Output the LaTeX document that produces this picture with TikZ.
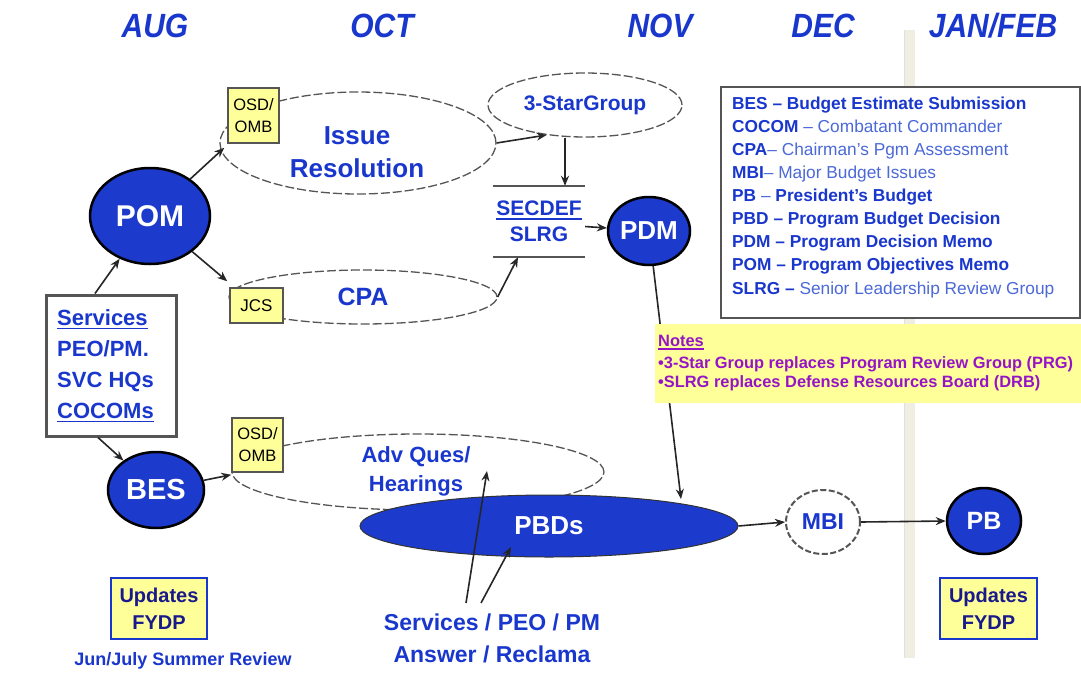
\documentclass[tikz,border=0pt]{standalone}
\usepackage{fontspec}
\setmainfont{Liberation Sans}
\usetikzlibrary{shapes.geometric,arrows.meta}
\definecolor{mblue}{RGB}{28,58,204}
\definecolor{tblue}{RGB}{25,55,205}
\definecolor{lblue}{RGB}{75,105,215}
\definecolor{ylw}{RGB}{255,255,153}
\definecolor{purp}{RGB}{150,20,200}
\definecolor{navy}{RGB}{25,25,140}
\definecolor{bandc}{RGB}{240,238,226}
\definecolor{lgray}{RGB}{85,85,85}
\newcommand{\fsz}[2][]{\fontsize{#2}{#2}\selectfont}
\newcommand{\fszb}[2]{\fontsize{#1}{#2}\selectfont}
\newcommand{\myul}[1]{\setbox0\hbox{#1}\rlap{\rule[-4pt]{\wd0}{1.8pt}}\box0}
\newcommand{\lb}[1]{{\bfseries\color{tblue}#1}}
\newcommand{\lr}[1]{{\color{lblue}#1}}
\tikzset{
  blueell/.style={ellipse, fill=mblue, draw=black, line width=2.5pt, text=white, font=\bfseries, inner sep=0},
  dashell/.style={ellipse, draw=lgray, dash pattern=on 9pt off 3pt, line width=1.3pt, inner sep=0, text=tblue, font=\bfseries},
  ybox/.style={rectangle, fill=ylw, draw=lgray, line width=1.5pt, inner sep=0, align=center, text=black},
  fydp/.style={rectangle, fill=ylw, draw=tblue, line width=1.5pt, inner sep=0, align=center, text=navy, font=\bfseries\fszb{20}{27}},
  arr/.style={-{Stealth[length=10pt,width=8pt]}, line width=1.6pt, draw=black!85},
  month/.style={anchor=base, text=tblue, font=\bfseries\itshape\fsz{30}},
  legline/.style={anchor=base west, font=\fsz{17.3}, inner sep=0},
  notetxt/.style={anchor=base west, text=purp, font=\bfseries\fsz{16.4}, inner sep=0},
  btxt/.style={text=tblue, font=\bfseries, align=center, inner sep=0}
}
\begin{document}
\begin{tikzpicture}[x=1pt,y=-1pt]
\fill[white] (0,0) rectangle (1081,672);
\useasboundingbox (0,0) rectangle (1081,672);
% vertical band
\fill[bandc] (904,30) rectangle (915,658);
\draw[black!12, line width=0.8pt] (904.5,30) -- (904.5,658);
% months
\node[month] (aug) at (155,37) {\scalebox{1}[1.12]{AUG}};
\node[month] (oct) at (382,37) {\scalebox{1}[1.12]{OCT}};
\node[month] (nov) at (660,37) {\scalebox{1}[1.12]{NOV}};
\node[month] (dec) at (823,37) {\scalebox{1}[1.12]{DEC}};
\node[month] (jan) at (993,37) {\scalebox{1}[1.12]{JAN/FEB}};
% ellipses (dashed)
\node[dashell, minimum width=276, minimum height=102] (iss) at (358,143) {};
\node[btxt, font=\bfseries\fszb{26}{33}] (isstxt) at (357,152) {Issue\\Resolution};
\node[dashell, minimum width=268, minimum height=54, font=\bfseries\fsz{25}] (cpa) at (363,297) {CPA};
\node[dashell, minimum width=194, minimum height=64, font=\bfseries\fsz{21}] (star) at (585,105) {3-StarGroup};
\node[dashell, minimum width=372, minimum height=76] (adv) at (418,472) {};
\node[btxt, font=\bfseries\fszb{22}{29}] (advtxt) at (416,471) {Adv Ques/\\Hearings};
% small yellow boxes
\node[ybox, minimum width=51, minimum height=55, font=\fszb{16.5}{22}] (osd1) at (253.5,115.5) {OSD/\\OMB};
\node[ybox, minimum width=53, minimum height=35, font=\fsz{17}] (jcs) at (256.5,305.5) {JCS};
\node[ybox, minimum width=51, minimum height=54, font=\fszb{16.5}{22}] (osd2) at (257.5,445) {OSD/\\OMB};
% blue ellipses
\node[blueell, minimum width=120, minimum height=96, font=\bfseries\fsz{30}] (POM) at (150,216) {POM};
\node[blueell, minimum width=96, minimum height=76, font=\bfseries\fsz{29}] (BES) at (156,490) {BES};
\node[blueell, minimum width=82, minimum height=68, font=\bfseries\fsz{26}] (PDM) at (649,231) {PDM};
\node[ellipse, fill=mblue, draw=black!80, line width=1pt, inner sep=0, text=white, minimum width=378, minimum height=62, font=\bfseries\fsz{26}] (PBDs) at (549,526) {PBDs};
\node[ellipse, fill=white, draw=lgray, dash pattern=on 6pt off 2.5pt, line width=2pt, inner sep=0, text=tblue, minimum width=74, minimum height=64, font=\bfseries\fsz{23}] (MBI) at (823,522) {MBI};
\node[blueell, minimum width=74, minimum height=66, font=\bfseries\fsz{25}] (PB) at (984,521) {PB};
% SECDEF / SLRG
\node[btxt, font=\bfseries\fszb{21}{26}, minimum width=92, minimum height=71] (sec) at (539,221.5) {\myul{SECDEF}\\SLRG};
\draw[lgray, line width=1.5pt] (sec.north west) -- (sec.north east);
\draw[lgray, line width=1.5pt] (sec.south west) -- (sec.south east);
% Services box
\node[draw=lgray, line width=3pt, fill=white, minimum width=130, minimum height=141, inner sep=0] (serv) at (111,365.5) {};
\node[anchor=west, align=left, text=tblue, font=\bfseries\fszb{22}{31}, inner sep=0] (servtxt) at (57,366) {\myul{Services}\\PEO/PM.\\SVC HQs\\\myul{COCOMs}};
% FYDP boxes
\node[fydp, minimum width=96, minimum height=61] (fy1) at (159,608.5) {Updates\\FYDP};
\node[fydp, minimum width=97, minimum height=61] (fy2) at (988.5,608.5) {Updates\\FYDP};
\node[btxt, font=\bfseries\fsz{18}] (jun) at (183,661) {Jun/July Summer Review};
\node[btxt, font=\bfseries\fszb{23}{32}] (ans) at (492,638) {Services / PEO / PM\\Answer / Reclama};
% connectors
\coordinate (s1) at (466,603);
\coordinate (s2) at (481,603);
\coordinate (a1) at (487,471);
\coordinate (a2) at (511,547);
\coordinate (pbtop) at (681,499);
\draw[arr] ([xshift=-16pt]serv.north) -- (POM);
\draw[arr] ([xshift=-13pt]serv.south) -- (BES);
\draw[arr] (POM) -- ([xshift=-3pt,yshift=-4pt]osd1.south west);
\draw[arr] (POM) -- ([xshift=-2pt,yshift=6pt]jcs.north west);
\draw[arr] (BES) -- ([yshift=-2pt]osd2.south west);
\draw[arr] (iss.east) -- (star.218);
\draw[arr] ([xshift=-20pt]star.south) -- ([xshift=26pt]sec.north);
\draw[arr] (cpa.east) -- ([xshift=-21pt]sec.south);
\draw[arr] ([yshift=-5pt]sec.east) -- (PDM);
\draw[arr] (PDM) -- (pbtop);
\draw[arr] (PBDs.east) -- (MBI.west);
\draw[arr] (MBI.east) -- (PB.west);
\draw[arr] (s1) -- (a1);
\draw[arr] (s2) -- (a2);
% legend box
\node[draw=lgray, line width=2pt, fill=white, minimum width=359, minimum height=231, inner sep=0] (leg) at (900.5,202.5) {};
\node[legline] (l1) at (732,109) {\lb{BES – Budget Estimate Submission}};
\node[legline] (l2) at (732,132.1) {\lb{COCOM} \lr{– Combatant Commander}};
\node[legline] (l3) at (732,155.3) {\lb{CPA}\lr{– Chairman’s Pgm Assessment}};
\node[legline] (l4) at (732,178.4) {\lb{MBI}\lr{ – Major Budget Issues}};
\node[legline] (l5) at (732,201.5) {\lb{PB} \lr{–} \lb{President’s Budget}};
\node[legline] (l6) at (732,224.6) {\lb{PBD – Program Budget Decision}};
\node[legline] (l7) at (732,247.8) {\lb{PDM – Program Decision Memo}};
\node[legline] (l8) at (732,270.9) {\lb{POM – Program Objectives Memo}};
\node[legline] (l9) at (732,294) {\lb{SLRG –} \lr{Senior Leadership Review Group}};
% notes
\node[fill=ylw, minimum width=426, minimum height=79, inner sep=0] (notes) at (868,363.5) {};
\node[notetxt] (n1) at (658,346) {\myul{Notes}};
\node[notetxt] (n2) at (658,368) {•3-Star Group replaces Program Review Group (PRG)};
\node[notetxt] (n3) at (658,387) {•SLRG replaces Defense Resources Board (DRB)};
\end{tikzpicture}
\end{document}
